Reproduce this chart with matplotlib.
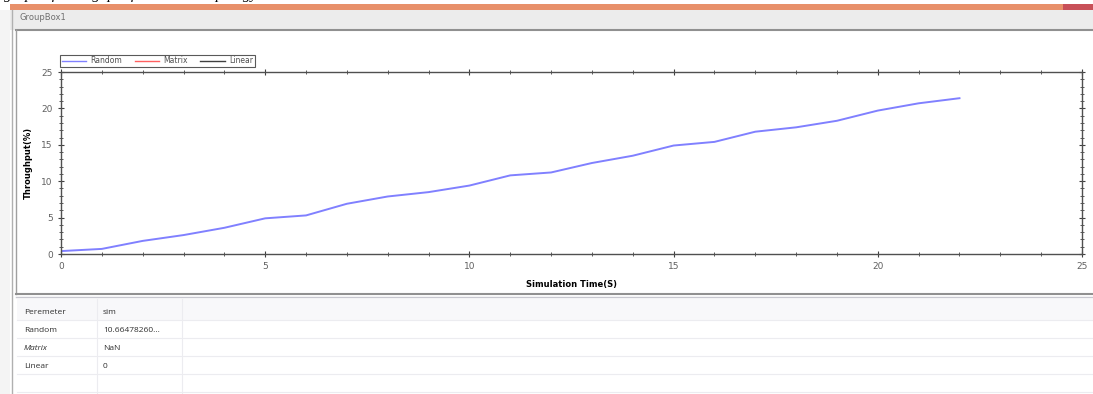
import matplotlib
matplotlib.use('Agg')
import matplotlib.pyplot as plt
from matplotlib.patches import Rectangle
from matplotlib.ticker import MultipleLocator

# data
simTime = [0, 1, 2, 3, 4, 5, 6, 7, 8, 9, 10, 11, 12, 13, 14, 15, 16, 17, 18, 19, 20, 21, 22]
randomThroughput = [0.4, 0.7, 1.8, 2.6, 3.6, 4.9, 5.3, 6.9, 7.9, 8.5, 9.4, 10.8, 11.2, 12.5,
                    13.5, 14.9, 15.4, 16.8, 17.4, 18.3, 19.7, 20.7, 21.4]
seriesNames = ['Random', 'Matrix', 'Linear']
seriesColors = ['#8080ff', '#ff6060', '#404040']
tableRows = [['Peremeter', 'sim'],
             ['Random', '10.66478260...'],
             ['Matrix', 'NaN'],
             ['Linear', '0']]

W, H = 1093, 394
fig = plt.figure(figsize=(W / 100, H / 100), dpi=100)
fig.patch.set_facecolor('white')


def px(x, y):
    # pixel (top-left origin) -> figure coords
    return x / W, 1 - y / H


def rect(x0, y0, x1, y1, **kw):
    fig.add_artist(Rectangle((x0 / W, 1 - y1 / H), (x1 - x0) / W, (y1 - y0) / H,
                             transform=fig.transFigure, **kw))


def hline(y, x0, x1, color, lw=1):
    fig.add_artist(plt.Line2D([x0 / W, x1 / W], [1 - y / H, 1 - y / H],
                              transform=fig.transFigure, color=color, lw=lw))


def vline(x, y0, y1, color, lw=1):
    fig.add_artist(plt.Line2D([x / W, x / W], [1 - y0 / H, 1 - y1 / H],
                              transform=fig.transFigure, color=color, lw=lw))


# caption cut off at the very top of the screenshot
fig.text(*px(4, -5), 'graph of throughput for random topology', fontsize=11,
         family='Liberation Serif', style='italic', va='center', ha='left')

# window chrome
rect(10, 4, W, 10, color='#e8906a', lw=0)
rect(1063, 4, W, 10, color='#c85058', lw=0)
rect(10, 10, W, 30, color='#ececec', lw=0)
rect(0, 10, 10, H, color='#f4f4f4', lw=0)
vline(12, 10, H, '#b0b0b0', 1)
fig.text(*px(19, 18), 'GroupBox1', fontsize=6, color='#707070', va='center')

# chart panel border
hline(30, 16, W, '#909090', 1.5)
vline(16, 30, 294, '#a0a0a0', 1)
hline(294, 16, W, '#909090', 1.5)
hline(297, 16, W, '#c8c8d0', 1)

# table
rect(17, 299, W, 320, color='#f8f8fa', lw=0)
for y in [320, 338, 356, 374, 392]:
    hline(y, 17, W, '#ececf0', 0.8)
vline(97, 299, H, '#ececf0', 0.8)
vline(182, 299, H, '#ececf0', 0.8)
for i, (a, b) in enumerate(tableRows):
    y = 312 + i * 18
    st = 'italic' if a == 'Matrix' else 'normal'
    fig.text(*px(24, y), a, fontsize=6, family='Open Sans', style=st, color='#303030', va='center')
    fig.text(*px(103, y), b, fontsize=6, family='Open Sans', color='#303030', va='center')

# the plot itself
ax = fig.add_axes([61 / W, (H - 254) / H, (1082 - 61) / W, (254 - 72) / H])
ax.plot(simTime, randomThroughput, color=seriesColors[0], lw=1.4)
ax.set_xlim(0, 25)
ax.set_ylim(0, 25)
ax.xaxis.set_major_locator(MultipleLocator(5))
ax.xaxis.set_minor_locator(MultipleLocator(1))
ax.yaxis.set_major_locator(MultipleLocator(5))
ax.yaxis.set_minor_locator(MultipleLocator(1))
ax.tick_params(which='both', direction='inout', top=True, right=True, color='#404040',
               labelsize=6.5, labelcolor='#606060')
ax.tick_params(which='major', length=5, width=0.8)
ax.tick_params(which='minor', length=3, width=0.6)
for s in ax.spines.values():
    s.set_color('#505050')
    s.set_linewidth(1.0)
ax.set_xlabel('Simulation Time(S)', fontsize=6, fontweight='bold', labelpad=6)
ax.set_ylabel('Throughput(%)', fontsize=6, fontweight='bold', labelpad=6)

handles = [plt.Line2D([], [], color=c, lw=1) for c in seriesColors]
leg = ax.legend(handles, seriesNames, loc='lower left', bbox_to_anchor=(-0.001, 1.028), ncol=3,
                fontsize=5.5, frameon=True, fancybox=False, borderpad=0.2,
                handlelength=3.2, columnspacing=1.6, handletextpad=0.6, borderaxespad=0,
                labelcolor='#505050')
leg.get_frame().set_edgecolor('#303030')
leg.get_frame().set_linewidth(0.8)

fig.savefig('out.png', dpi=100)
